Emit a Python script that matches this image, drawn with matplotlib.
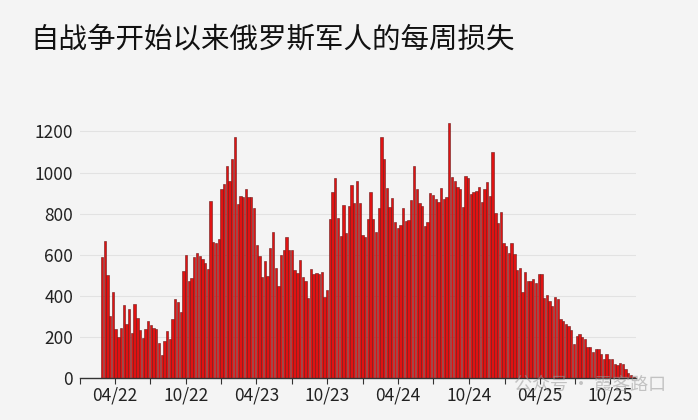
import matplotlib
matplotlib.use("Agg")
import matplotlib.pyplot as plt
import matplotlib.dates as mdates
import pandas as pd

plt.rcParams['font.family'] = ['Noto Sans CJK SC', 'DejaVu Sans']

title = "自战争开始以来俄罗斯军人的每周损失"
start_date = "2022-02-24"
weekly_losses = [
    590, 668, 500, 300, 418, 237, 198, 240, 352, 262, 335, 219, 361, 291, 231, 192,
    237, 275, 255, 242, 237, 169, 110, 180, 226, 190, 288, 383, 369, 320, 520, 600, 473,
    484, 586, 606, 593, 577, 557, 528, 861, 660, 658, 676, 919, 942, 1031, 958, 1067,
    1174, 845, 885, 879, 918, 879, 879, 827, 647, 593, 492, 567, 495, 634, 711, 533, 448,
    598, 622, 684, 622, 622, 525, 508, 572, 492, 471, 387, 530, 504, 508, 504, 515, 395,
    427, 772, 905, 971, 780, 690, 840, 703, 837, 937, 850, 958, 853, 694, 684, 772,
    906, 775, 708, 825, 1171, 1064, 923, 833, 874, 760, 728, 742, 827, 763, 768, 866,
    1033, 918, 850, 837, 739, 760, 902, 889, 869, 858, 923, 872, 879, 1243, 980, 958, 931,
    920, 830, 983, 975, 895, 906, 910, 931, 858, 918, 952, 887, 1098, 804, 752, 807, 658,
    640, 609, 658, 603, 525, 534, 416, 514, 470, 469, 482, 460, 507, 505, 386, 402, 376,
    351, 395, 382, 288, 276, 262, 250, 231, 164, 203, 213, 200, 189, 151, 151, 124, 139,
    138, 117, 93, 115, 92, 93, 69, 63, 70, 67, 41, 25, 11, 3,
]
y_ticks = [0, 200, 400, 600, 800, 1000, 1200]
watermark = "公众号 · 霞客路口"

dates = pd.date_range(start_date, periods=len(weekly_losses), freq="7D")

W, H = 698, 420
fig = plt.figure(figsize=(W / 100, H / 100), dpi=100)
bg = '#f4f4f4'
fig.patch.set_facecolor(bg)
ax = fig.add_axes([80 / W, 1 - 377.7 / H, (636 - 80) / W, (377.7 - 113) / H])
ax.set_facecolor(bg)

ax.bar(dates, weekly_losses, width=6, color='#e01212', edgecolor='#6a1a1a',
       linewidth=0.4, zorder=3, align='edge')

ax.set_xlim(pd.Timestamp("2022-01-01"), pd.Timestamp("2025-12-06"))
ax.set_ylim(0, 1290)

ax.xaxis.set_major_locator(mdates.MonthLocator(bymonth=[4, 10]))
ax.xaxis.set_major_formatter(mdates.DateFormatter('%m/%y'))
ax.xaxis.set_minor_locator(mdates.MonthLocator(bymonth=[1, 7]))
ax.tick_params(axis='x', which='both', length=4, width=0.8, color='#333333',
               labelsize=12.5, labelcolor='#222222', pad=2)

ax.set_yticks(y_ticks)
ax.tick_params(axis='y', length=0, labelsize=12.5, labelcolor='#222222', pad=5)
ax.grid(axis='y', color='#e2e2e2', linewidth=0.8, zorder=0)
ax.set_axisbelow(True)

for s in ['top', 'right', 'left']:
    ax.spines[s].set_visible(False)
ax.spines['bottom'].set_color('#333333')
ax.spines['bottom'].set_linewidth(1.0)
ax.spines['bottom'].set_zorder(4)

fig.text(30 / W, 1 - 40 / H, title, fontsize=20.5, va='center', ha='left', color='#111111')

fig.text(514 / W, 1 - 385 / H, watermark, fontsize=13, va='center', ha='left',
         color='#9a9a9a', alpha=0.55, zorder=0)

fig.savefig("out.png", dpi=100, facecolor=bg)
